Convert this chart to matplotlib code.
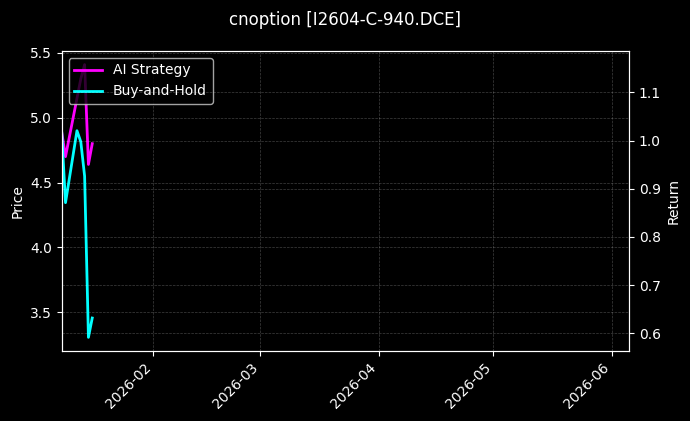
import matplotlib
matplotlib.use("Agg")
import matplotlib.pyplot as plt
import matplotlib.dates as mdates
import pandas as pd

plt.style.use("dark_background")

# data
dates = pd.to_datetime(["2026-01-08", "2026-01-09", "2026-01-12", "2026-01-13",
                        "2026-01-14", "2026-01-15", "2026-01-16"])
ai_strategy = [4.89, 4.70, 5.15, 5.30, 5.41, 4.64, 4.80]
buy_and_hold = [4.89, 4.345, 4.90, 4.815, 4.55, 3.306, 3.455]

x_start = pd.Timestamp("2026-01-08")
x_end = pd.Timestamp("2026-06-05 12:00")
return_range = (0.563, 1.186)

fig = plt.figure(figsize=(6.9, 4.21), dpi=100)
ax = fig.add_axes([0.0894, 0.1663, 0.8222, 0.7126])

ax.plot(dates, ai_strategy, color="#ff00ff", linewidth=2, label="AI Strategy")
ax.plot(dates, buy_and_hold, color="#00ffff", linewidth=2, label="Buy-and-Hold")
ax.set_ylabel("Price")
ax.set_xlim(x_start, x_end)
ax.xaxis.set_major_locator(mdates.MonthLocator())
ax.xaxis.set_major_formatter(mdates.DateFormatter("%Y-%m"))
ax.grid(True, linestyle="--", linewidth=0.5, alpha=0.25)
ax.legend(loc="upper left")

#Return axis on the right
ax2 = ax.twinx()
ax2.set_ylim(*return_range)
ax2.set_ylabel("Return")
ax2.grid(True, linestyle="--", linewidth=0.5, alpha=0.25)

plt.setp(ax.get_xticklabels(), rotation=45, ha="right")

fig.suptitle("cnoption [I2604-C-940.DCE]", fontsize=12, y=0.975)

fig.savefig("out.png", dpi=100)
